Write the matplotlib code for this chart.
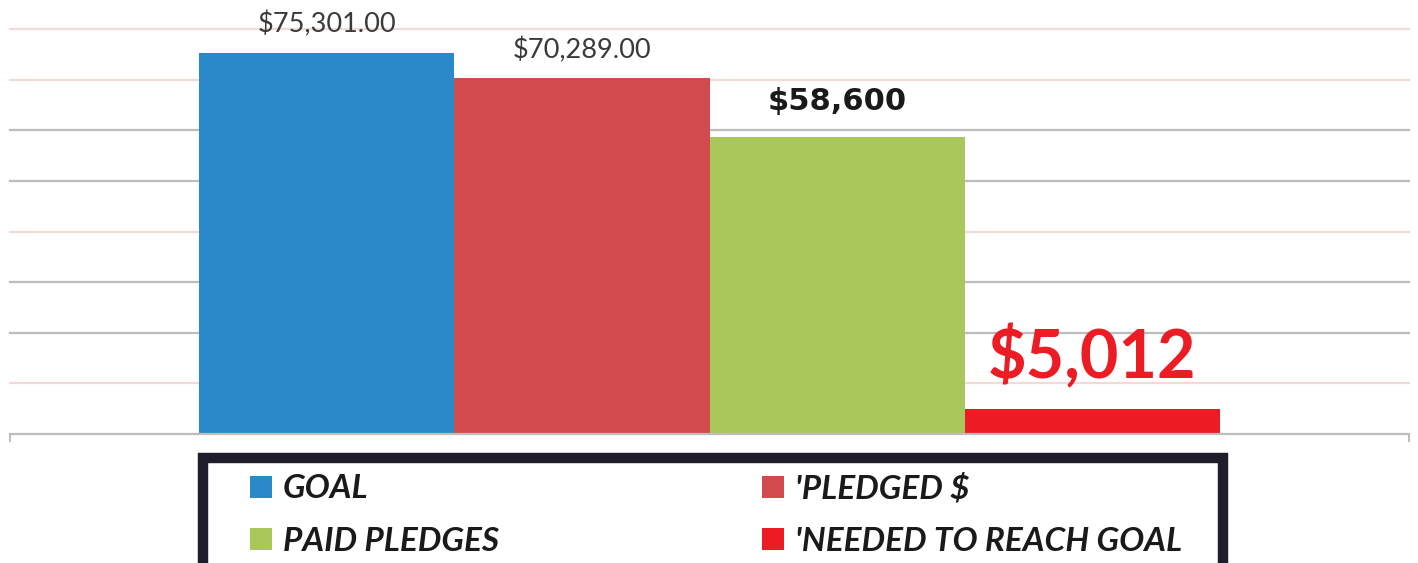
import matplotlib
matplotlib.use("Agg")
import matplotlib.pyplot as plt
from matplotlib.patches import Patch, Rectangle

# data
series = ["GOAL", "'PLEDGED $", "PAID PLEDGES", "'NEEDED TO REACH GOAL"]
values = [75301, 70289, 58600, 5012]
value_labels = ["$75,301.00", "$70,289.00", "$58,600", "$5,012"]
bar_colors = ["#2a8ac9", "#d14b4e", "#a9c75a", "#ec1c24"]
grid_values = [10000, 20000, 30000, 40000, 50000, 60000, 70000, 80000]
grid_colors = ["#efdcd8", "#bdbdbd", "#bdbdbd", "#efdcd8",
               "#bdbdbd", "#bdbdbd", "#efdcd8", "#efdcd8"]

W, H = 1418, 563
fig = plt.figure(figsize=(W / 100, H / 100), dpi=100)
ax = fig.add_axes([10 / W, (H - 434) / H, 1399 / W, 405 / H])

x = list(range(len(values)))
ax.bar(x, values, width=1.0, color=bar_colors, zorder=3)
ax.set_xlim(-1.243, 4.243)
ax.set_ylim(0, 80000)

for gv, gc in zip(grid_values, grid_colors):
    ax.axhline(gv, color=gc, lw=1.6, zorder=1, clip_on=False)

for s in ["top", "left", "right"]:
    ax.spines[s].set_visible(False)
ax.spines["bottom"].set_color("#bdbdbd")
ax.spines["bottom"].set_linewidth(1.6)
ax.spines["bottom"].set_zorder(4)
ax.set_yticks([])
ax.set_xticks([-1.243, 4.243])
ax.set_xticklabels([])
ax.tick_params(axis="x", direction="out", length=6, width=1.4, color="#bdbdbd")

# value labels
label_styles = [
    dict(fontsize=19.5, fontweight="normal", color="#3a3a3a", family="Lato", off=15),
    dict(fontsize=19.5, fontweight="normal", color="#3a3a3a", family="Lato", off=14.5),
    dict(fontsize=22, fontweight="bold", color="#1a1a1a", family="DejaVu Sans", off=19.5),
    dict(fontsize=48, fontweight="bold", color="#ec1c24", family="Lato", off=21.5),
]
for xi, v, txt, st in zip(x, values, value_labels, label_styles):
    ax.annotate(txt, (xi, v), xytext=(0, st["off"]), textcoords="offset points",
                ha="center", va="baseline", fontsize=st["fontsize"],
                fontweight=st["fontweight"], color=st["color"],
                family=st["family"], annotation_clip=False)

# legend: goal/paid in first column, pledged/needed in second
order = [0, 2, 1, 3]
handles = [Patch(facecolor=bar_colors[i], edgecolor="none") for i in order]
labels = [series[i] for i in order]
leg = fig.legend(handles, labels, ncol=2, loc="upper left",
                 bbox_to_anchor=(250 / W, 1 - 473 / H),
                 frameon=False, borderpad=0, borderaxespad=0,
                 prop=dict(family="Lato", weight="bold", style="italic", size=24),
                 handlelength=0.66, handleheight=0.66, handletextpad=0.33,
                 columnspacing=7.9, labelspacing=0.7)
for t in leg.get_texts():
    t.set_color("#1a1a1a")

fig.patches.append(Rectangle((203 / W, -0.05), 1020 / W, 1 - 458 / H + 0.05,
                             transform=fig.transFigure, fill=False,
                             edgecolor="#201d2b", linewidth=7.5, zorder=5))

fig.savefig("out.png", dpi=100)
